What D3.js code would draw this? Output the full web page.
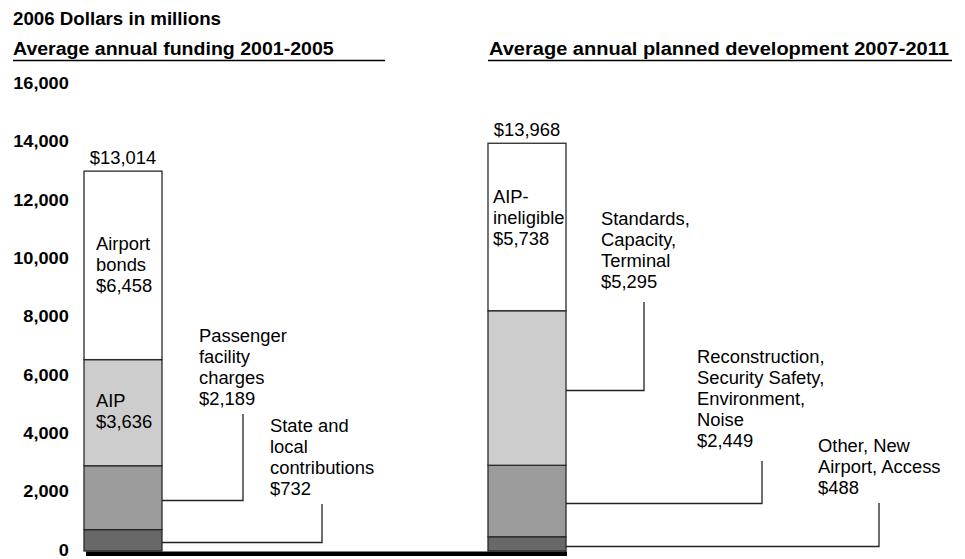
<!DOCTYPE html>
<html>
<head>
<meta charset="utf-8">
<script src="https://cdn.jsdelivr.net/npm/d3@7"></script>
<style>
  html, body { margin: 0; padding: 0; background: #fff; }
  svg { display: block; font-family: "Liberation Sans", Arial, Helvetica, sans-serif; }
</style>
</head>
<body>
<svg id="chart" width="965" height="559"></svg>
<script>
// Airport capital funding vs. planned development, 2006 dollars in millions
const periods = ["2001-2005", "2007-2011"];
const panelTitles = ["Average annual funding 2001-2005", "Average annual planned development 2007-2011"];
const unitsTitle = "2006 Dollars in millions";

// Stacked from bottom to top
const fundingSources = ["State and local contributions", "Passenger facility charges", "AIP", "Airport bonds"];
const fundingValues = [732, 2189, 3636, 6458];
const fundingTotal = 13014;

const developmentTypes = ["Other, New Airport, Access", "Reconstruction, Security Safety, Environment, Noise", "Standards, Capacity, Terminal", "AIP-ineligible"];
const developmentValues = [488, 2449, 5295, 5738];
const developmentTotal = 13968;

const yTicks = [0, 2000, 4000, 6000, 8000, 10000, 12000, 14000, 16000];

// Label text lines (value line is appended from the data)
const fundingLabelLines = [["State and", "local", "contributions"], ["Passenger", "facility", "charges"], ["AIP"], ["Airport", "bonds"]];
const developmentLabelLines = [["Other, New", "Airport, Access"], ["Reconstruction,", "Security Safety,", "Environment,", "Noise"], ["Standards,", "Capacity,", "Terminal"], ["AIP-", "ineligible"]];

// ---- layout ----
const svg = d3.select("#chart");
const SX_BOLD = 1.07;         // horizontal stretch of the bold lettering
const SX_REG = 1.05;          // horizontal stretch of the regular lettering
const barW = 78;
const lineH = 21;
const fills = ["#686868", "#9b9b9b", "#cdcdcd", "#ffffff"];

const y = d3.scaleLinear().domain([0, 16000]).range([551, 84]);
const x = d3.scalePoint().domain(periods).range([84, 488]);
const money = d3.format("$,");

function stretchedText(g, tx, ty, str, opts = {}) {
  const bold = opts.weight === "bold";
  const sx = opts.sx || (bold ? SX_BOLD : SX_REG);
  return g.append("text")
    .attr("transform", `translate(${tx},${ty}) scale(${sx},1)`)
    .attr("text-anchor", opts.anchor || "start")
    .attr("font-size", opts.size || 17.5)
    .attr("font-weight", bold ? "bold" : "normal")
    .attr("fill", "#000")
    .text(str);
}

// headers
stretchedText(svg, 13, 25, unitsTitle, { weight: "bold", size: 17.5 });
stretchedText(svg, 13, 55, panelTitles[0], { weight: "bold", size: 18.5, sx: 1.057 });
stretchedText(svg, 489, 55, panelTitles[1], { weight: "bold", size: 18.5, sx: 1.083 });
svg.append("line").attr("x1", 13).attr("x2", 385).attr("y1", 60.5).attr("y2", 60.5).attr("stroke", "#000").attr("stroke-width", 1.3);
svg.append("line").attr("x1", 488).attr("x2", 952).attr("y1", 60.5).attr("y2", 60.5).attr("stroke", "#000").attr("stroke-width", 1.3);

// y axis (labels only)
const yAxis = svg.append("g")
  .attr("transform", "translate(72,0)")
  .call(d3.axisLeft(y).tickValues(yTicks).tickSize(0).tickPadding(0).tickFormat(d3.format(",")));
yAxis.select(".domain").remove();
yAxis.selectAll("text")
  .attr("font-family", "Liberation Sans, Arial, sans-serif")
  .attr("font-size", 17)
  .attr("font-weight", "bold")
  .attr("fill", "#000")
  .attr("x", -3)
  .attr("dy", "0.25em")
  .attr("transform", `scale(${SX_BOLD},1)`);

// stacked bars
const stacks = [
  { period: periods[0], values: fundingValues, total: fundingTotal, names: fundingSources, lines: fundingLabelLines },
  { period: periods[1], values: developmentValues, total: developmentTotal, names: developmentTypes, lines: developmentLabelLines }
];
stacks.forEach(s => {
  let acc = 0;
  s.segs = s.values.map((v, i) => { const seg = { y0: acc, y1: acc + v, v, i, name: s.names[i], lines: s.lines[i] }; acc += v; return seg; });
});

const barG = svg.append("g");
stacks.forEach(s => {
  barG.selectAll(null).data(s.segs).enter().append("rect")
    .attr("x", x(s.period))
    .attr("width", barW)
    .attr("y", d => y(d.y1))
    .attr("height", d => y(d.y0) - y(d.y1))
    .attr("fill", (d, i) => fills[i])
    .attr("stroke", "#2a2a2a")
    .attr("stroke-width", 1.3);
  // total above bar
  const top = s.segs[s.segs.length - 1].y1;
  stretchedText(svg, x(s.period) + barW / 2, y(top) - 7, money(s.total), { anchor: "middle" });
});

// baseline
svg.append("rect")
  .attr("x", x(periods[0]) + 2)
  .attr("width", x(periods[1]) + barW - x(periods[0]) - 1)
  .attr("y", y(0) + 0.5)
  .attr("height", 4.5)
  .attr("fill", "#000");

// segment labels: inside labels and leader-line callouts
const labelLayout = [
  [ // funding
    { type: "callout", leaderX: 322, leaderTop: 504, tx: 270, ty: 432 },
    { type: "callout", leaderX: 243, leaderTop: 414, tx: 199, ty: 342 },
    { type: "inside", dx: 12, ty: 407 },
    { type: "inside", dx: 12, ty: 250 }
  ],
  [ // development
    { type: "callout", leaderX: 879, leaderTop: 503, tx: 818, ty: 452 },
    { type: "callout", leaderX: 762, leaderTop: 461, tx: 697, ty: 363 },
    { type: "callout", leaderX: 644, leaderTop: 302, tx: 601, ty: 225 },
    { type: "inside", dx: 5, ty: 203 }
  ]
];

const annG = svg.append("g");
stacks.forEach((s, si) => {
  s.segs.forEach((seg, i) => {
    const L = labelLayout[si][i];
    const textLines = seg.lines.concat([money(seg.v)]);
    const tx = L.type === "inside" ? x(s.period) + L.dx : L.tx;
    textLines.forEach((t, k) => stretchedText(annG, tx, L.ty + k * lineH, t));
    if (L.type === "callout") {
      const ly = Math.round(y((seg.y0 + seg.y1) / 2) + 2) + 0.5;
      annG.append("path")
        .attr("d", `M${x(s.period) + barW},${ly}H${L.leaderX}V${L.leaderTop}`)
        .attr("fill", "none")
        .attr("stroke", "#222")
        .attr("stroke-width", 1.3);
    }
  });
});
</script>
</body>
</html>
